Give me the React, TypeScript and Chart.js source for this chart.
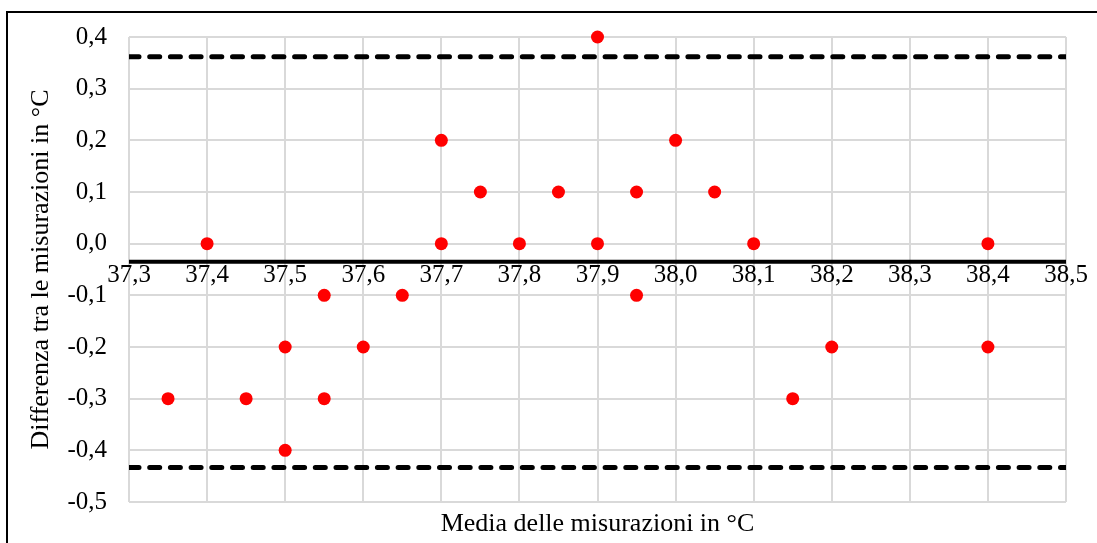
import React, { useEffect, useRef } from "react";
import { Chart, registerables } from "chart.js";

Chart.register(...registerables);

const meanX: number[] = [37.35, 37.4, 37.45, 37.5, 37.5, 37.55, 37.55, 37.6, 37.65, 37.7, 37.7, 37.75, 37.8, 37.85, 37.9, 37.9, 37.95, 37.95, 38.0, 38.05, 38.1, 38.15, 38.2, 38.4, 38.4];
const diffY: number[] = [-0.3, 0, -0.3, -0.2, -0.4, -0.1, -0.3, -0.2, -0.1, 0.2, 0, 0.1, 0, 0.1, 0.4, 0, 0.1, -0.1, 0.2, 0.1, 0, -0.3, -0.2, 0, -0.2];
const bias = -0.035;
const upperLoA = 0.362;
const lowerLoA = -0.433;
const xTicks: number[] = [37.3, 37.4, 37.5, 37.6, 37.7, 37.8, 37.9, 38.0, 38.1, 38.2, 38.3, 38.4, 38.5];
const yTicks: number[] = [-0.5, -0.4, -0.3, -0.2, -0.1, 0.0, 0.1, 0.2, 0.3, 0.4];
const xTitle = "Media delle misurazioni in °C";
const yTitle = "Differenza tra le misurazioni in °C";

const fmt = (v: number) => (Math.abs(v) < 1e-9 ? "0,0" : v.toFixed(1).replace(".", ","));

const FONT = "'Liberation Serif', 'Times New Roman', serif";

export default function App() {
  const ref = useRef<HTMLCanvasElement | null>(null);
  useEffect(() => {
    if (!ref.current) return;
    const xMin = xTicks[0];
    const xMax = xTicks[xTicks.length - 1];
    const hLine = (v: number) => [
      { x: xMin, y: v },
      { x: xMax, y: v },
    ];
    const chart = new Chart(ref.current, {
      type: "scatter",
      data: {
        datasets: [
          {
            type: "scatter",
            data: meanX.map((x, i) => ({ x, y: diffY[i] })),
            backgroundColor: "#ff0000",
            borderWidth: 0,
            pointRadius: 6.5,
            clip: false,
            order: 0,
          },
          {
            type: "line",
            data: hLine(bias),
            borderColor: "#000000",
            borderWidth: 4,
            pointRadius: 0,
            order: 1,
          },
          {
            type: "line",
            data: hLine(upperLoA),
            borderColor: "#000000",
            borderWidth: 5,
            borderDash: [10, 10.7],
            borderCapStyle: "round",
            pointRadius: 0,
            order: 1,
          },
          {
            type: "line",
            data: hLine(lowerLoA),
            borderColor: "#000000",
            borderWidth: 5,
            borderDash: [10, 10.7],
            borderCapStyle: "round",
            pointRadius: 0,
            order: 1,
          },
        ] as any,
      },
      options: {
        animation: false,
        responsive: false,
        maintainAspectRatio: false,
        layout: { padding: { left: 0, right: 31, top: 34, bottom: 0 } },
        plugins: { legend: { display: false }, tooltip: { enabled: false } },
        scales: {
          x: {
            type: "linear",
            position: "bottom",
            min: xMin,
            max: xMax,
            afterBuildTicks: (s: any) => {
              s.ticks = xTicks.map((v) => ({ value: v }));
            },
            afterFit: (s: any) => {
              s.height = 41;
            },
            ticks: { display: false },
            grid: { color: "#d9d9d9", lineWidth: 2, drawTicks: false },
            border: { display: false },
            title: {
              display: true,
              text: xTitle,
              color: "#000000",
              font: { family: FONT, size: 26 },
              padding: { top: 0, bottom: 3 },
            },
          },
          x2: {
            type: "linear",
            axis: "x",
            position: { y: 0 },
            min: xMin,
            max: xMax,
            afterBuildTicks: (s: any) => {
              s.ticks = xTicks.map((v) => ({ value: v }));
            },
            afterFit: (s: any) => {
              s.height = 0;
            },
            ticks: {
              autoSkip: false,
              maxRotation: 0,
              color: "#000000",
              font: { family: FONT, size: 25 },
              padding: 0,
              callback: (v: any) => fmt(Number(v)),
            },
            grid: { display: false, drawTicks: true, tickLength: 17 },
            border: { display: false },
          },
          y: {
            type: "linear",
            position: "left",
            min: yTicks[0],
            max: yTicks[yTicks.length - 1],
            afterBuildTicks: (s: any) => {
              s.ticks = yTicks.map((v) => ({ value: v }));
            },
            afterFit: (s: any) => {
              s.width = 129;
            },
            ticks: {
              color: "#000000",
              font: { family: FONT, size: 25 },
              padding: 22,
              callback: (v: any) => fmt(Number(v)),
            },
            grid: { color: "#d9d9d9", lineWidth: 2, drawTicks: false },
            border: { display: false },
            title: {
              display: true,
              text: yTitle,
              color: "#000000",
              font: { family: FONT, size: 26 },
              padding: { top: 26, bottom: 0 },
            },
          },
        },
      } as any,
    });
    return () => chart.destroy();
  }, []);

  return (
    <div style={{ position: "fixed", left: 0, top: 0, width: 1097, height: 543, background: "#fff", overflow: "hidden" }}>
      <canvas ref={ref} width={1097} height={543} style={{ position: "absolute", left: 0, top: 0, width: 1097, height: 543 }} />
      <div
        style={{
          position: "absolute",
          left: 6,
          top: 11,
          width: 1200,
          height: 700,
          borderTop: "2.5px solid #000",
          borderLeft: "2.5px solid #000",
          pointerEvents: "none",
        }}
      />
    </div>
  );
}
